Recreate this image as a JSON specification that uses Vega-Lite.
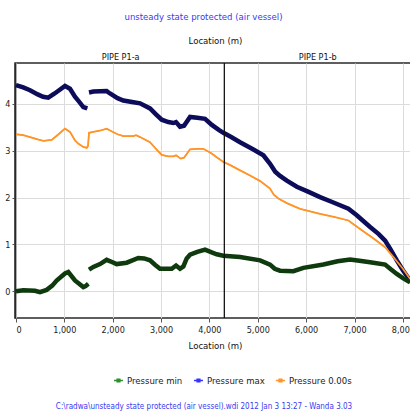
{
  "$schema": "https://vega.github.io/schema/vega-lite/v6.json",
  "autosize": "none",
  "width": 400,
  "height": 255,
  "padding": {"left": 15, "top": 63, "right": 0, "bottom": 95},
  "title": {"text": "C:\\radwa\\unsteady state  protected (air vessel).wdi  2012 Jan 3  13:27 -  Wanda 3.03", "orient": "bottom", "color": "#3a3af0", "fontSize": 8, "fontWeight": "normal", "dx": -11, "offset": 18},
  "config": {
    "font": "'DejaVu Sans Condensed', 'Liberation Sans', sans-serif",
    "title": {"font": "'DejaVu Sans Condensed', 'Liberation Sans', sans-serif"},
    "view": {"stroke": "#2a2a2a", "strokeWidth": 1.5},
    "axis": {"labelFont": "'DejaVu Sans Condensed', 'Liberation Sans', sans-serif", "titleFont": "'DejaVu Sans Condensed', 'Liberation Sans', sans-serif", "labelColor": "#222", "titleColor": "#111", "titleFontWeight": "normal", "labelFontSize": 9, "titleFontSize": 9.5, "gridColor": "#dcdcdc", "gridWidth": 1, "domainColor": "#2a2a2a", "tickColor": "#555"},
    "legend": {"labelFont": "'DejaVu Sans Condensed', 'Liberation Sans', sans-serif", "titleFont": "'DejaVu Sans Condensed', 'Liberation Sans', sans-serif"}
  },
  "data": {"values": [
    {"series": "Pressure max", "part": "a", "loc": 0, "p": 4.40},
    {"series": "Pressure max", "part": "a", "loc": 150, "p": 4.35},
    {"series": "Pressure max", "part": "a", "loc": 290, "p": 4.29},
    {"series": "Pressure max", "part": "a", "loc": 450, "p": 4.20},
    {"series": "Pressure max", "part": "a", "loc": 560, "p": 4.15},
    {"series": "Pressure max", "part": "a", "loc": 668, "p": 4.13},
    {"series": "Pressure max", "part": "a", "loc": 800, "p": 4.22},
    {"series": "Pressure max", "part": "a", "loc": 1013, "p": 4.38},
    {"series": "Pressure max", "part": "a", "loc": 1117, "p": 4.32},
    {"series": "Pressure max", "part": "a", "loc": 1220, "p": 4.15},
    {"series": "Pressure max", "part": "a", "loc": 1300, "p": 4.05},
    {"series": "Pressure max", "part": "a", "loc": 1393, "p": 3.93},
    {"series": "Pressure max", "part": "a", "loc": 1475, "p": 3.90},
    {"series": "Pressure max", "part": "b", "loc": 1510, "p": 4.24},
    {"series": "Pressure max", "part": "b", "loc": 1600, "p": 4.26},
    {"series": "Pressure max", "part": "b", "loc": 1875, "p": 4.27},
    {"series": "Pressure max", "part": "b", "loc": 1944, "p": 4.22},
    {"series": "Pressure max", "part": "b", "loc": 2100, "p": 4.12},
    {"series": "Pressure max", "part": "b", "loc": 2220, "p": 4.07},
    {"series": "Pressure max", "part": "b", "loc": 2400, "p": 4.04},
    {"series": "Pressure max", "part": "b", "loc": 2565, "p": 4.01},
    {"series": "Pressure max", "part": "b", "loc": 2771, "p": 3.90},
    {"series": "Pressure max", "part": "b", "loc": 2900, "p": 3.77},
    {"series": "Pressure max", "part": "b", "loc": 3013, "p": 3.66},
    {"series": "Pressure max", "part": "b", "loc": 3150, "p": 3.61},
    {"series": "Pressure max", "part": "b", "loc": 3254, "p": 3.59},
    {"series": "Pressure max", "part": "b", "loc": 3309, "p": 3.61},
    {"series": "Pressure max", "part": "b", "loc": 3392, "p": 3.51},
    {"series": "Pressure max", "part": "b", "loc": 3475, "p": 3.53},
    {"series": "Pressure max", "part": "b", "loc": 3599, "p": 3.72},
    {"series": "Pressure max", "part": "b", "loc": 3750, "p": 3.70},
    {"series": "Pressure max", "part": "b", "loc": 3909, "p": 3.68},
    {"series": "Pressure max", "part": "b", "loc": 4050, "p": 3.55},
    {"series": "Pressure max", "part": "b", "loc": 4200, "p": 3.44},
    {"series": "Pressure max", "part": "b", "loc": 4288, "p": 3.38},
    {"series": "Pressure max", "part": "b", "loc": 4450, "p": 3.29},
    {"series": "Pressure max", "part": "b", "loc": 4633, "p": 3.18},
    {"series": "Pressure max", "part": "b", "loc": 4900, "p": 3.03},
    {"series": "Pressure max", "part": "b", "loc": 5115, "p": 2.90},
    {"series": "Pressure max", "part": "b", "loc": 5253, "p": 2.72},
    {"series": "Pressure max", "part": "b", "loc": 5360, "p": 2.55},
    {"series": "Pressure max", "part": "b", "loc": 5460, "p": 2.46},
    {"series": "Pressure max", "part": "b", "loc": 5600, "p": 2.36},
    {"series": "Pressure max", "part": "b", "loc": 5806, "p": 2.23},
    {"series": "Pressure max", "part": "b", "loc": 6050, "p": 2.12},
    {"series": "Pressure max", "part": "b", "loc": 6287, "p": 2.01},
    {"series": "Pressure max", "part": "b", "loc": 6550, "p": 1.90},
    {"series": "Pressure max", "part": "b", "loc": 6873, "p": 1.76},
    {"series": "Pressure max", "part": "b", "loc": 7046, "p": 1.62},
    {"series": "Pressure max", "part": "b", "loc": 7322, "p": 1.37},
    {"series": "Pressure max", "part": "b", "loc": 7500, "p": 1.22},
    {"series": "Pressure max", "part": "b", "loc": 7632, "p": 1.08},
    {"series": "Pressure max", "part": "b", "loc": 7735, "p": 0.91},
    {"series": "Pressure max", "part": "b", "loc": 7874, "p": 0.66},
    {"series": "Pressure max", "part": "b", "loc": 8000, "p": 0.45},
    {"series": "Pressure max", "part": "b", "loc": 8149, "p": 0.23},
    {"series": "Pressure min", "part": "a", "loc": 0, "p": 0.00},
    {"series": "Pressure min", "part": "a", "loc": 152, "p": 0.02},
    {"series": "Pressure min", "part": "a", "loc": 393, "p": 0.01},
    {"series": "Pressure min", "part": "a", "loc": 496, "p": -0.02},
    {"series": "Pressure min", "part": "a", "loc": 634, "p": 0.03},
    {"series": "Pressure min", "part": "a", "loc": 750, "p": 0.12},
    {"series": "Pressure min", "part": "a", "loc": 841, "p": 0.23},
    {"series": "Pressure min", "part": "a", "loc": 1013, "p": 0.38},
    {"series": "Pressure min", "part": "a", "loc": 1082, "p": 0.41},
    {"series": "Pressure min", "part": "a", "loc": 1220, "p": 0.23},
    {"series": "Pressure min", "part": "a", "loc": 1393, "p": 0.09},
    {"series": "Pressure min", "part": "a", "loc": 1440, "p": 0.11},
    {"series": "Pressure min", "part": "a", "loc": 1496, "p": 0.16},
    {"series": "Pressure min", "part": "b", "loc": 1510, "p": 0.46},
    {"series": "Pressure min", "part": "b", "loc": 1600, "p": 0.52},
    {"series": "Pressure min", "part": "b", "loc": 1737, "p": 0.58},
    {"series": "Pressure min", "part": "b", "loc": 1875, "p": 0.67},
    {"series": "Pressure min", "part": "b", "loc": 1950, "p": 0.64},
    {"series": "Pressure min", "part": "b", "loc": 2082, "p": 0.58},
    {"series": "Pressure min", "part": "b", "loc": 2289, "p": 0.61},
    {"series": "Pressure min", "part": "b", "loc": 2530, "p": 0.71},
    {"series": "Pressure min", "part": "b", "loc": 2650, "p": 0.70},
    {"series": "Pressure min", "part": "b", "loc": 2771, "p": 0.66},
    {"series": "Pressure min", "part": "b", "loc": 2880, "p": 0.56},
    {"series": "Pressure min", "part": "b", "loc": 2978, "p": 0.48},
    {"series": "Pressure min", "part": "b", "loc": 3220, "p": 0.48},
    {"series": "Pressure min", "part": "b", "loc": 3309, "p": 0.55},
    {"series": "Pressure min", "part": "b", "loc": 3392, "p": 0.48},
    {"series": "Pressure min", "part": "b", "loc": 3461, "p": 0.53},
    {"series": "Pressure min", "part": "b", "loc": 3530, "p": 0.70},
    {"series": "Pressure min", "part": "b", "loc": 3599, "p": 0.78},
    {"series": "Pressure min", "part": "b", "loc": 3750, "p": 0.84},
    {"series": "Pressure min", "part": "b", "loc": 3909, "p": 0.89},
    {"series": "Pressure min", "part": "b", "loc": 4047, "p": 0.83},
    {"series": "Pressure min", "part": "b", "loc": 4150, "p": 0.79},
    {"series": "Pressure min", "part": "b", "loc": 4288, "p": 0.76},
    {"series": "Pressure min", "part": "b", "loc": 4633, "p": 0.73},
    {"series": "Pressure min", "part": "b", "loc": 5047, "p": 0.66},
    {"series": "Pressure min", "part": "b", "loc": 5253, "p": 0.57},
    {"series": "Pressure min", "part": "b", "loc": 5350, "p": 0.48},
    {"series": "Pressure min", "part": "b", "loc": 5460, "p": 0.44},
    {"series": "Pressure min", "part": "b", "loc": 5735, "p": 0.43},
    {"series": "Pressure min", "part": "b", "loc": 5942, "p": 0.50},
    {"series": "Pressure min", "part": "b", "loc": 6356, "p": 0.57},
    {"series": "Pressure min", "part": "b", "loc": 6650, "p": 0.64},
    {"series": "Pressure min", "part": "b", "loc": 6908, "p": 0.68},
    {"series": "Pressure min", "part": "b", "loc": 7100, "p": 0.65},
    {"series": "Pressure min", "part": "b", "loc": 7322, "p": 0.62},
    {"series": "Pressure min", "part": "b", "loc": 7632, "p": 0.57},
    {"series": "Pressure min", "part": "b", "loc": 7750, "p": 0.47},
    {"series": "Pressure min", "part": "b", "loc": 7874, "p": 0.37},
    {"series": "Pressure min", "part": "b", "loc": 8000, "p": 0.28},
    {"series": "Pressure min", "part": "b", "loc": 8149, "p": 0.19},
    {"series": "Pressure 0.00s", "part": "a", "loc": 0, "p": 3.35},
    {"series": "Pressure 0.00s", "part": "a", "loc": 150, "p": 3.33},
    {"series": "Pressure 0.00s", "part": "a", "loc": 290, "p": 3.29},
    {"series": "Pressure 0.00s", "part": "a", "loc": 450, "p": 3.24},
    {"series": "Pressure 0.00s", "part": "a", "loc": 565, "p": 3.21},
    {"series": "Pressure 0.00s", "part": "a", "loc": 738, "p": 3.23},
    {"series": "Pressure 0.00s", "part": "a", "loc": 880, "p": 3.35},
    {"series": "Pressure 0.00s", "part": "a", "loc": 1013, "p": 3.47},
    {"series": "Pressure 0.00s", "part": "a", "loc": 1117, "p": 3.40},
    {"series": "Pressure 0.00s", "part": "a", "loc": 1220, "p": 3.22},
    {"series": "Pressure 0.00s", "part": "a", "loc": 1300, "p": 3.14},
    {"series": "Pressure 0.00s", "part": "a", "loc": 1393, "p": 3.08},
    {"series": "Pressure 0.00s", "part": "a", "loc": 1462, "p": 3.06},
    {"series": "Pressure 0.00s", "part": "a", "loc": 1490, "p": 3.10},
    {"series": "Pressure 0.00s", "part": "a", "loc": 1510, "p": 3.38},
    {"series": "Pressure 0.00s", "part": "a", "loc": 1600, "p": 3.40},
    {"series": "Pressure 0.00s", "part": "a", "loc": 1750, "p": 3.43},
    {"series": "Pressure 0.00s", "part": "a", "loc": 1875, "p": 3.47},
    {"series": "Pressure 0.00s", "part": "a", "loc": 1944, "p": 3.43},
    {"series": "Pressure 0.00s", "part": "a", "loc": 2100, "p": 3.35},
    {"series": "Pressure 0.00s", "part": "a", "loc": 2220, "p": 3.31},
    {"series": "Pressure 0.00s", "part": "a", "loc": 2426, "p": 3.31},
    {"series": "Pressure 0.00s", "part": "a", "loc": 2482, "p": 3.33},
    {"series": "Pressure 0.00s", "part": "a", "loc": 2565, "p": 3.29},
    {"series": "Pressure 0.00s", "part": "a", "loc": 2771, "p": 3.18},
    {"series": "Pressure 0.00s", "part": "a", "loc": 2900, "p": 3.03},
    {"series": "Pressure 0.00s", "part": "a", "loc": 3013, "p": 2.91},
    {"series": "Pressure 0.00s", "part": "a", "loc": 3150, "p": 2.88},
    {"series": "Pressure 0.00s", "part": "a", "loc": 3254, "p": 2.88},
    {"series": "Pressure 0.00s", "part": "a", "loc": 3309, "p": 2.90},
    {"series": "Pressure 0.00s", "part": "a", "loc": 3406, "p": 2.83},
    {"series": "Pressure 0.00s", "part": "a", "loc": 3475, "p": 2.85},
    {"series": "Pressure 0.00s", "part": "a", "loc": 3599, "p": 3.03},
    {"series": "Pressure 0.00s", "part": "a", "loc": 3750, "p": 3.04},
    {"series": "Pressure 0.00s", "part": "a", "loc": 3875, "p": 3.04},
    {"series": "Pressure 0.00s", "part": "a", "loc": 4047, "p": 2.94},
    {"series": "Pressure 0.00s", "part": "a", "loc": 4150, "p": 2.86},
    {"series": "Pressure 0.00s", "part": "a", "loc": 4288, "p": 2.76},
    {"series": "Pressure 0.00s", "part": "a", "loc": 4450, "p": 2.68},
    {"series": "Pressure 0.00s", "part": "a", "loc": 4633, "p": 2.58},
    {"series": "Pressure 0.00s", "part": "a", "loc": 4840, "p": 2.47},
    {"series": "Pressure 0.00s", "part": "a", "loc": 5050, "p": 2.35},
    {"series": "Pressure 0.00s", "part": "a", "loc": 5253, "p": 2.19},
    {"series": "Pressure 0.00s", "part": "a", "loc": 5330, "p": 2.06},
    {"series": "Pressure 0.00s", "part": "a", "loc": 5425, "p": 1.98},
    {"series": "Pressure 0.00s", "part": "a", "loc": 5600, "p": 1.88},
    {"series": "Pressure 0.00s", "part": "a", "loc": 5874, "p": 1.76},
    {"series": "Pressure 0.00s", "part": "a", "loc": 6287, "p": 1.65},
    {"series": "Pressure 0.00s", "part": "a", "loc": 6600, "p": 1.58},
    {"series": "Pressure 0.00s", "part": "a", "loc": 6873, "p": 1.51},
    {"series": "Pressure 0.00s", "part": "a", "loc": 7115, "p": 1.33},
    {"series": "Pressure 0.00s", "part": "a", "loc": 7400, "p": 1.12},
    {"series": "Pressure 0.00s", "part": "a", "loc": 7632, "p": 0.94},
    {"series": "Pressure 0.00s", "part": "a", "loc": 7804, "p": 0.73},
    {"series": "Pressure 0.00s", "part": "a", "loc": 8000, "p": 0.48},
    {"series": "Pressure 0.00s", "part": "a", "loc": 8149, "p": 0.26}
  ]},
  "resolve": {"axis": {"x": "independent"}},
  "layer": [
    {
      "mark": {"type": "line", "strokeWidth": 1.2},
      "encoding": {
        "x": {"field": "loc", "type": "quantitative", "scale": {"domain": [-20, 8250], "nice": false, "zero": false},
          "axis": {"orient": "bottom", "title": "Location (m)", "values": [0, 1000, 2000, 3000, 4000, 5000, 6000, 7000, 8000], "format": ",d", "tickSize": 4, "labelPadding": 3, "titlePadding": 6, "domain": false}},
        "y": {"field": "p", "type": "quantitative", "scale": {"domain": [-0.57, 4.87], "nice": false, "zero": false},
          "axis": {"title": null, "values": [0, 1, 2, 3, 4], "tickSize": 3, "labelPadding": 2, "domainWidth": 1.5}},
        "color": {"field": "series", "type": "nominal",
          "scale": {"domain": ["Pressure min", "Pressure max", "Pressure 0.00s"], "range": ["#2f8f2f", "#3434ff", "#ff9428"]},
          "legend": {"orient": "none", "legendX": 98, "legendY": 312, "direction": "horizontal", "title": null, "labelFontSize": 9.5, "labelColor": "#222", "symbolType": "M-1,0L1,0M-0.3,-0.3L0.3,-0.3L0.3,0.3L-0.3,0.3Z", "symbolSize": 80, "symbolStrokeWidth": 1.5, "columnPadding": 8, "labelOffset": 3}},
        "detail": {"field": "part"},
        "order": {"field": "loc", "type": "quantitative"}
      }
    },
    {
      "transform": [{"filter": "datum.series === 'Pressure max'"}],
      "mark": {"type": "line", "strokeWidth": 4.5, "color": "#0c0c5a"},
      "encoding": {
        "x": {"field": "loc", "type": "quantitative", "axis": null},
        "y": {"field": "p", "type": "quantitative"},
        "detail": {"field": "part"},
        "order": {"field": "loc", "type": "quantitative"}
      }
    },
    {
      "transform": [{"filter": "datum.series === 'Pressure min'"}],
      "mark": {"type": "line", "strokeWidth": 4.5, "color": "#0e3a0e"},
      "encoding": {
        "x": {"field": "loc", "type": "quantitative", "axis": null},
        "y": {"field": "p", "type": "quantitative"},
        "detail": {"field": "part"},
        "order": {"field": "loc", "type": "quantitative"}
      }
    },
    {
      "transform": [{"filter": "datum.series === 'Pressure 0.00s'"}],
      "mark": {"type": "line", "strokeWidth": 1.8, "color": "#ff9428"},
      "encoding": {
        "x": {"field": "loc", "type": "quantitative", "axis": null},
        "y": {"field": "p", "type": "quantitative"},
        "order": {"field": "loc", "type": "quantitative"}
      }
    },
    {
      "data": {"values": [{"pipe_break": 4308}]},
      "mark": {"type": "rule", "color": "#111", "strokeWidth": 1},
      "encoding": {
        "x": {"field": "pipe_break", "type": "quantitative",
          "axis": {"orient": "top", "title": "Location (m)", "values": [2154, 6229], "labelExpr": "datum.value < 4308 ? 'PIPE P1-a' : 'PIPE P1-b'", "ticks": false, "domain": false, "grid": false, "labelPadding": 2, "titlePadding": 7, "labelColor": "#111"}}
      }
    },
    {
      "data": {"values": [{"pipe_break": 4308}]},
      "mark": {"type": "rule", "color": "#111", "strokeWidth": 1},
      "encoding": {
        "x": {"field": "pipe_break", "type": "quantitative",
          "axis": {"orient": "top", "title": "unsteady state  protected (air vessel)", "titleColor": "#3a3af0", "titleFontSize": 9.5, "values": [], "labels": false, "ticks": false, "domain": false, "grid": false, "offset": 39, "titlePadding": 3, "titleX": 188}}
      }
    }
  ]
}
